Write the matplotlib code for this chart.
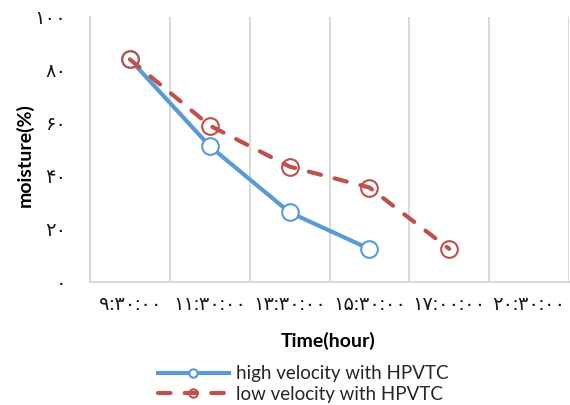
import matplotlib
matplotlib.use("Agg")
import matplotlib.pyplot as plt
from matplotlib.lines import Line2D

plt.rcParams['font.family'] = ['Lato', 'DejaVu Sans']

categories = ["۹:۳۰:۰۰", "۱۱:۳۰:۰۰", "۱۳:۳۰:۰۰", "۱۵:۳۰:۰۰", "۱۷:۰۰:۰۰", "۲۰:۳۰:۰۰"]
high_vals = [84.1, 51.3, 26.3, 12.5]
low_vals = [84.1, 59.1, 43.6, 35.7, 12.5]
yticks = [0, 20, 40, 60, 80, 100]
ytick_labels = ["۰", "۲۰", "۴۰", "۶۰", "۸۰", "۱۰۰"]
series_names = ["high velocity with HPVTC", "low velocity with HPVTC"]

blue = "#5B9BD5"
red = "#C0504D"
grid = "#D9D9D9"

W, H = 570, 405
ax_left, ax_bottom, ax_right, ax_top = 90, 282, 569, 17.3
fig = plt.figure(figsize=(W/100, H/100), dpi=100)
ax = fig.add_axes([ax_left/W, 1-ax_bottom/H, (ax_right-ax_left)/W, (ax_bottom-ax_top)/H])

xh = list(range(len(high_vals)))
xl = list(range(len(low_vals)))
ax.plot(xh, high_vals, color=blue, lw=3, marker='o', ms=12, mfc='white',
        mec=blue, mew=1.5, solid_capstyle='round', zorder=3)
ax.plot(xl, low_vals, color=red, lw=3, marker='o', ms=12, mfc='none',
        mec=red, mew=1.5, dashes=(3.0, 3.4), dash_capstyle='round', zorder=4)

ax.set_xlim(-0.5, len(categories) - 0.5)
ax.set_ylim(0, 100)
ax.set_xticks(range(len(categories)))
ax.set_xticklabels(categories, fontsize=14)
ax.set_yticks(yticks)
ax.set_yticklabels(ytick_labels, fontsize=14)
ax.tick_params(axis='both', length=0, labelcolor='#1a1a1a')
ax.tick_params(axis='y', pad=17)
ax.tick_params(axis='x', pad=10)

for b in [i - 0.5 for i in range(len(categories) + 1)]:
    ax.axvline(b, color=grid, lw=1.5, zorder=1)

for s in ['top', 'right']:
    ax.spines[s].set_visible(False)
for s in ['left', 'bottom']:
    ax.spines[s].set_color(grid)
    ax.spines[s].set_linewidth(1.5)

axw = ax_right - ax_left
axh = ax_bottom - ax_top
ax.set_xlabel("Time(hour)", fontsize=14, fontweight='bold')
ax.set_ylabel("moisture(%)", fontsize=14, fontweight='bold')
ax.xaxis.set_label_coords((328-ax_left)/axw, (ax_bottom-341)/axh)
ax.yaxis.set_label_coords((25-ax_left)/axw, (ax_bottom-155)/axh)
ax.xaxis.label.set_va('center')
ax.yaxis.label.set_va('center')

h1 = Line2D([], [], color=blue, lw=3, marker='o', ms=6, mfc='white', mec=blue, mew=1.5)
h2 = Line2D([], [], color=red, lw=3, marker='o', ms=6, mfc='none', mec=red, mew=1.5,
            dashes=(3.0, 3.4), dash_capstyle='round')
leg = fig.legend([h1, h2], series_names, loc='center', bbox_to_anchor=(303/W, 1-384/H),
                 frameon=False, fontsize=13.5, handlelength=3.8, handletextpad=0.35,
                 labelspacing=0.2, borderpad=0)
for t in leg.get_texts():
    t.set_color('#262626')

fig.savefig("out.png", dpi=100)
